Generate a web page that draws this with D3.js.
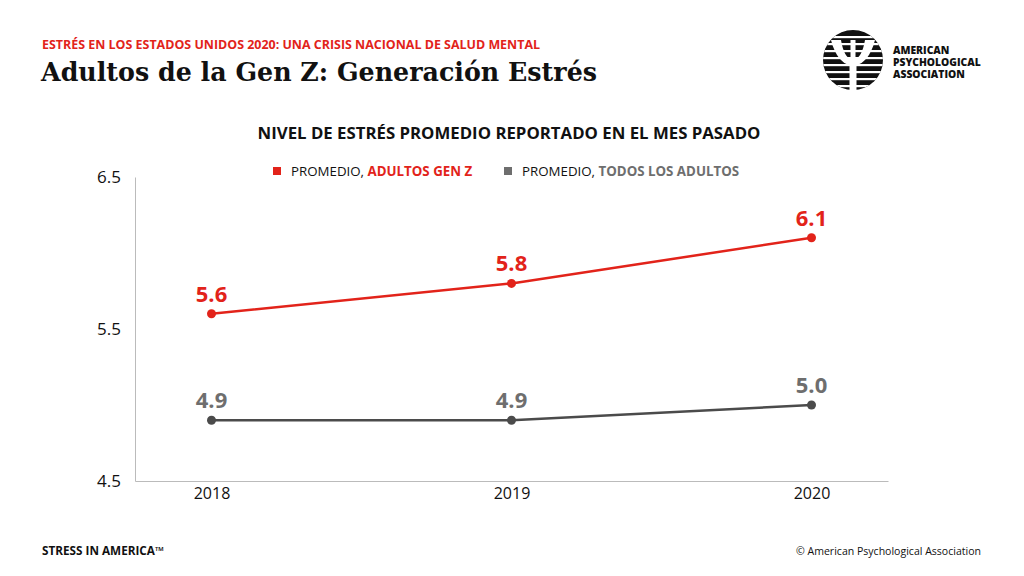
<!DOCTYPE html>
<html>
<head>
<meta charset="utf-8">
<script src="https://cdn.jsdelivr.net/npm/d3@7"></script>
<style>
  body { margin: 0; background: #fff; }
  svg { display: block; }
</style>
</head>
<body>
<div id="chart"></div>
<script>
// data
const years = ["2018", "2019", "2020"]
const genZ = [5.6, 5.8, 6.1]
const allAdults = [4.9, 4.9, 5.0]
const yTicks = [4.5, 5.5, 6.5]

const red = "#e2231a"
const grayLabel = "#6e6e6e"
const grayLine = "#4b4b4b"

const width = 1024, height = 576
const margin = { left: 135, right: 136, top: 177, bottom: 95 }

const svg = d3.select("#chart").append("svg")
    .attr("width", width)
    .attr("height", height)

svg.append("rect").attr("width", width).attr("height", height).attr("fill", "#fff")

// headings
svg.append("text")
    .attr("x", 42).attr("y", 49)
    .attr("fill", red)
    .style("font-family", "'Open Sans', sans-serif")
    .style("font-weight", "700")
    .style("font-size", "13px")
    .attr("textLength", 498)
    .attr("lengthAdjust", "spacingAndGlyphs")
    .text("ESTRÉS EN LOS ESTADOS UNIDOS 2020: UNA CRISIS NACIONAL DE SALUD MENTAL")

svg.append("text")
    .attr("x", 41).attr("y", 81)
    .attr("fill", "#111")
    .style("font-family", "'DejaVu Serif', serif")
    .style("font-weight", "700")
    .style("font-size", "26px")
    .attr("textLength", 556)
    .attr("lengthAdjust", "spacingAndGlyphs")
    .text("Adultos de la Gen Z: Generación Estrés")

// logo
const logo = svg.append("g").attr("transform", "translate(853,60)")
logo.append("clipPath").attr("id", "logoClip")
    .append("circle").attr("r", 30)
logo.append("circle").attr("r", 30).attr("fill", "#111")
const stripes = logo.append("g").attr("clip-path", "url(#logoClip)")
d3.range(-24, 30, 7).forEach(function (y) {
    stripes.append("rect").attr("x", -32).attr("y", y).attr("width", 64).attr("height", 2.2).attr("fill", "#fff")
})
// psi glyph
logo.append("path")
    .attr("fill", "#fff")
    .attr("d", "M-22,-20 L-12,-20 C-10,-8 -6,-2 -2.5,-1 L-2.5,-20 L2.5,-20 L2.5,-1 C6,-2 10,-8 12,-20 L22,-20 C18,-4 10,4 3.5,5 L3.5,30 L-3.5,30 L-3.5,5 C-10,4 -18,-4 -22,-20 Z")
const logoText = ["AMERICAN", "PSYCHOLOGICAL", "ASSOCIATION"]
logoText.forEach(function (t, i) {
    svg.append("text")
        .attr("x", 893).attr("y", 54 + i * 12)
        .attr("fill", "#111")
        .style("font-family", "'Open Sans', sans-serif")
        .style("font-weight", "800")
        .style("font-size", "10.3px")
        .text(t)
})

// chart title + legend
svg.append("text")
    .attr("x", 509).attr("y", 139)
    .attr("text-anchor", "middle")
    .attr("fill", "#111")
    .style("font-family", "'Open Sans', sans-serif")
    .style("font-weight", "700")
    .style("font-size", "16.8px")
    .text("NIVEL DE ESTRÉS PROMEDIO REPORTADO EN EL MES PASADO")

const legend = [
    { x: 273, color: red, label: "ADULTOS GEN Z" },
    { x: 504, color: grayLabel, label: "TODOS LOS ADULTOS" }
]
legend.forEach(function (l) {
    svg.append("rect").attr("x", l.x).attr("y", 167).attr("width", 8).attr("height", 8).attr("fill", l.color)
    const t = svg.append("text")
        .attr("x", l.x + 18).attr("y", 176)
        .style("font-family", "'Open Sans', sans-serif")
        .style("font-size", "13.3px")
        .attr("fill", "#111")
    t.append("tspan").text("PROMEDIO, ")
    t.append("tspan").attr("fill", l.color).style("font-weight", "700").text(l.label)
})

// scales
const x = d3.scalePoint()
    .domain(years)
    .range([margin.left, width - margin.right])
    .padding(0.255)

const y = d3.scaleLinear()
    .domain([4.5, 6.5])
    .range([height - margin.bottom, margin.top])

// axes
const yAxis = svg.append("g")
    .attr("transform", "translate(" + margin.left + ",0)")
    .call(d3.axisLeft(y).tickValues(yTicks).tickSize(0).tickPadding(14).tickFormat(d3.format(".1f")))
yAxis.select(".domain").attr("stroke", "#bbb")
yAxis.selectAll("text")
    .style("font-family", "'Open Sans', sans-serif")
    .style("font-size", "17px")
    .attr("fill", "#111")

const xAxis = svg.append("g")
    .attr("transform", "translate(0," + (height - margin.bottom) + ")")
    .call(d3.axisBottom(x).tickSize(0).tickPadding(7))
xAxis.select(".domain").attr("stroke", "#bbb")
xAxis.selectAll("text")
    .style("font-family", "'Open Sans', sans-serif")
    .style("font-size", "16px")
    .attr("fill", "#111")

// lines
const series = [
    { values: genZ, line: red, label: red },
    { values: allAdults, line: grayLine, label: grayLabel }
]
const line = d3.line()
    .x(function (d, i) { return x(years[i]) })
    .y(function (d) { return y(d) })

series.forEach(function (s) {
    svg.append("path")
        .datum(s.values)
        .attr("fill", "none")
        .attr("stroke", s.line)
        .attr("stroke-width", 2.5)
        .attr("d", line)
    svg.selectAll(null)
        .data(s.values)
        .enter().append("circle")
        .attr("cx", function (d, i) { return x(years[i]) })
        .attr("cy", function (d) { return y(d) })
        .attr("r", 4.5)
        .attr("fill", s.line)
    svg.selectAll(null)
        .data(s.values)
        .enter().append("text")
        .attr("x", function (d, i) { return x(years[i]) })
        .attr("y", function (d) { return y(d) - 12 })
        .attr("text-anchor", "middle")
        .attr("fill", s.label)
        .style("font-family", "'Open Sans', sans-serif")
        .style("font-weight", "700")
        .style("font-size", "22px")
        .text(function (d) { return d3.format(".1f")(d) })
})

// footer
svg.append("text")
    .attr("x", 42).attr("y", 555)
    .attr("fill", "#111")
    .style("font-family", "'Open Sans', sans-serif")
    .style("font-weight", "700")
    .style("font-size", "11.5px")
    .attr("textLength", 122)
    .attr("lengthAdjust", "spacingAndGlyphs")
    .text("STRESS IN AMERICA™")

svg.append("text")
    .attr("x", 981).attr("y", 555)
    .attr("text-anchor", "end")
    .attr("fill", "#111")
    .style("font-family", "'Open Sans', sans-serif")
    .style("font-size", "11.5px")
    .attr("textLength", 185)
    .attr("lengthAdjust", "spacingAndGlyphs")
    .text("© American Psychological Association")
</script>
</body>
</html>
